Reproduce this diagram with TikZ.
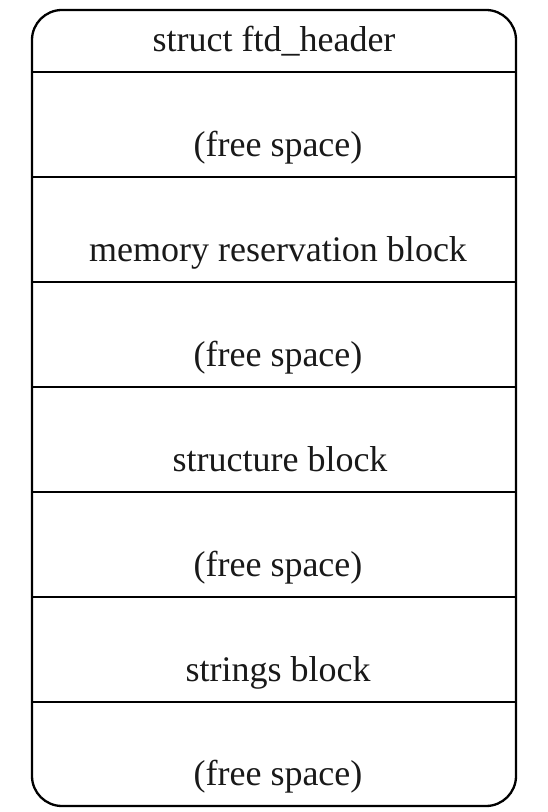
\documentclass[tikz,border=0pt]{standalone}
\usepackage{fontspec}
\setmainfont{Liberation Serif}
\begin{document}
\begin{tikzpicture}[x=1pt,y=1pt,
  frame/.style={draw=black, line width=2.3pt, rounded corners=30pt},
  sep/.style={draw=black, line width=2.3pt},
  lbl/.style={anchor=base, inner sep=0pt, font=\fontsize{36}{40}\selectfont, text=black!90}]
\useasboundingbox (0,0) rectangle (548,812);
\draw[frame] (32,6) rectangle (516,802);
\foreach \y [count=\i] in {740,635,530,425,320,215,110}{
  \coordinate (l\i) at (32,\y);
  \coordinate (r\i) at (516,\y);
  \draw[sep] (l\i) -- (r\i);
}
\node[lbl] (t0) at (274,760) {struct ftd\_header};
\node[lbl] (t1) at (278,655) {(free space)};
\node[lbl] (t2) at (278,550) {memory reservation block};
\node[lbl] (t3) at (278,445) {(free space)};
\node[lbl] (t4) at (280,340) {structure block};
\node[lbl] (t5) at (278,235) {(free space)};
\node[lbl] (t6) at (278,130) {strings block};
\node[lbl] (t7) at (278,26) {(free space)};
\end{tikzpicture}
\end{document}
